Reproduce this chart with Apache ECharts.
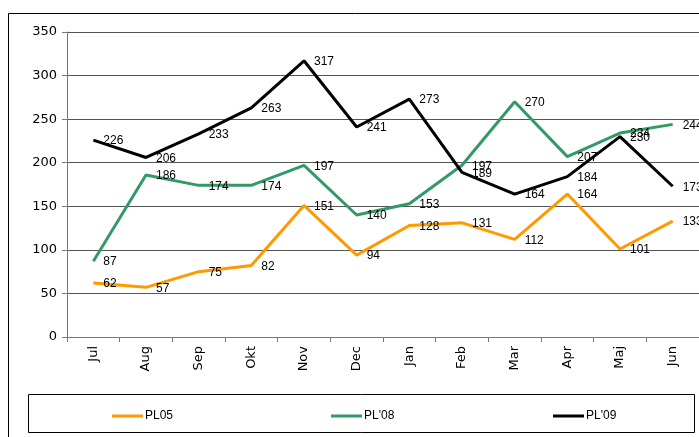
<!DOCTYPE html>
<html>
<head>
<meta charset="utf-8">
<script src="https://cdn.jsdelivr.net/npm/echarts@6/dist/echarts.min.js"></script>
<style>
html,body{margin:0;padding:0;background:#fff;}
#c{width:699px;height:437px;}
</style>
</head>
<body>
<div id="c"></div>
<script>
const categories = ['Jul','Aug','Sep','Okt','Nov','Dec','Jan','Feb','Mar','Apr','Maj','Jun'];
const pl05 = [62,57,75,82,151,94,128,131,112,164,101,133];
const pl08 = [87,186,174,174,197,140,153,197,270,207,234,244];
const pl09 = [226,206,233,263,317,241,273,189,164,184,230,173];
const seriesNames = ['PL05',"PL'08","PL'09"];
const colors = ['#FF9900','#339966','#000000'];

const chart = echarts.init(document.getElementById('c'), null, {renderer:'canvas'});
const labelCfg = {show:true, position:'right', distance:10, offset:[0,1], color:'#000', fontSize:12, fontFamily:'Liberation Sans, Arial, sans-serif'};
function mkSeries(name, data, color){
  return {name:name, type:'line', data:data, symbol:'circle', symbolSize:0, showSymbol:true, animation:false,
    lineStyle:{color:color, width:3}, itemStyle:{color:color}, label:labelCfg, z:3};
}
const legendBase = {top:405, itemWidth:31, itemHeight:3, icon:'rect', itemGap:2,
  textStyle:{fontSize:12, fontFamily:'Liberation Sans Narrow, Arial Narrow, Liberation Sans, sans-serif', color:'#000', padding:[0,0,0,-3]}};
chart.setOption({
  animation:false,
  backgroundColor:'#fff',
  grid:{left:67, top:32, width:635, height:305, containLabel:false},
  xAxis:{type:'category', data:categories, boundaryGap:true,
    axisLine:{lineStyle:{color:'#777', width:1}},
    axisTick:{show:true, length:5, lineStyle:{color:'#777'}},
    axisLabel:{rotate:90, margin:9, fontSize:13, color:'#000', fontFamily:'DejaVu Sans, Verdana, sans-serif'}},
  yAxis:{type:'value', min:0, max:350, interval:50,
    axisLine:{show:true, lineStyle:{color:'#777', width:1}},
    axisTick:{show:true, length:5, lineStyle:{color:'#777'}},
    axisLabel:{margin:10, fontSize:13, color:'#000', fontFamily:'DejaVu Sans, Verdana, sans-serif'},
    splitLine:{show:true, lineStyle:{color:'#555', width:1}}},
  legend:[
    Object.assign({}, legendBase, {left:107, data:[seriesNames[0]]}),
    Object.assign({}, legendBase, {left:326, data:[seriesNames[1]]}),
    Object.assign({}, legendBase, {left:548, data:[seriesNames[2]]})
  ],
  graphic:[
    {type:'rect', shape:{x:8.5, y:13.5, width:720, height:440}, style:{fill:null, stroke:'#000', lineWidth:1}, z:-1, silent:true},
    {type:'rect', shape:{x:28.5, y:394.5, width:666, height:38}, style:{fill:null, stroke:'#000', lineWidth:1}, z:-1, silent:true}
  ],
  series:[
    mkSeries(seriesNames[0], pl05, colors[0]),
    mkSeries(seriesNames[1], pl08, colors[1]),
    mkSeries(seriesNames[2], pl09, colors[2])
  ]
});
</script>
</body>
</html>
